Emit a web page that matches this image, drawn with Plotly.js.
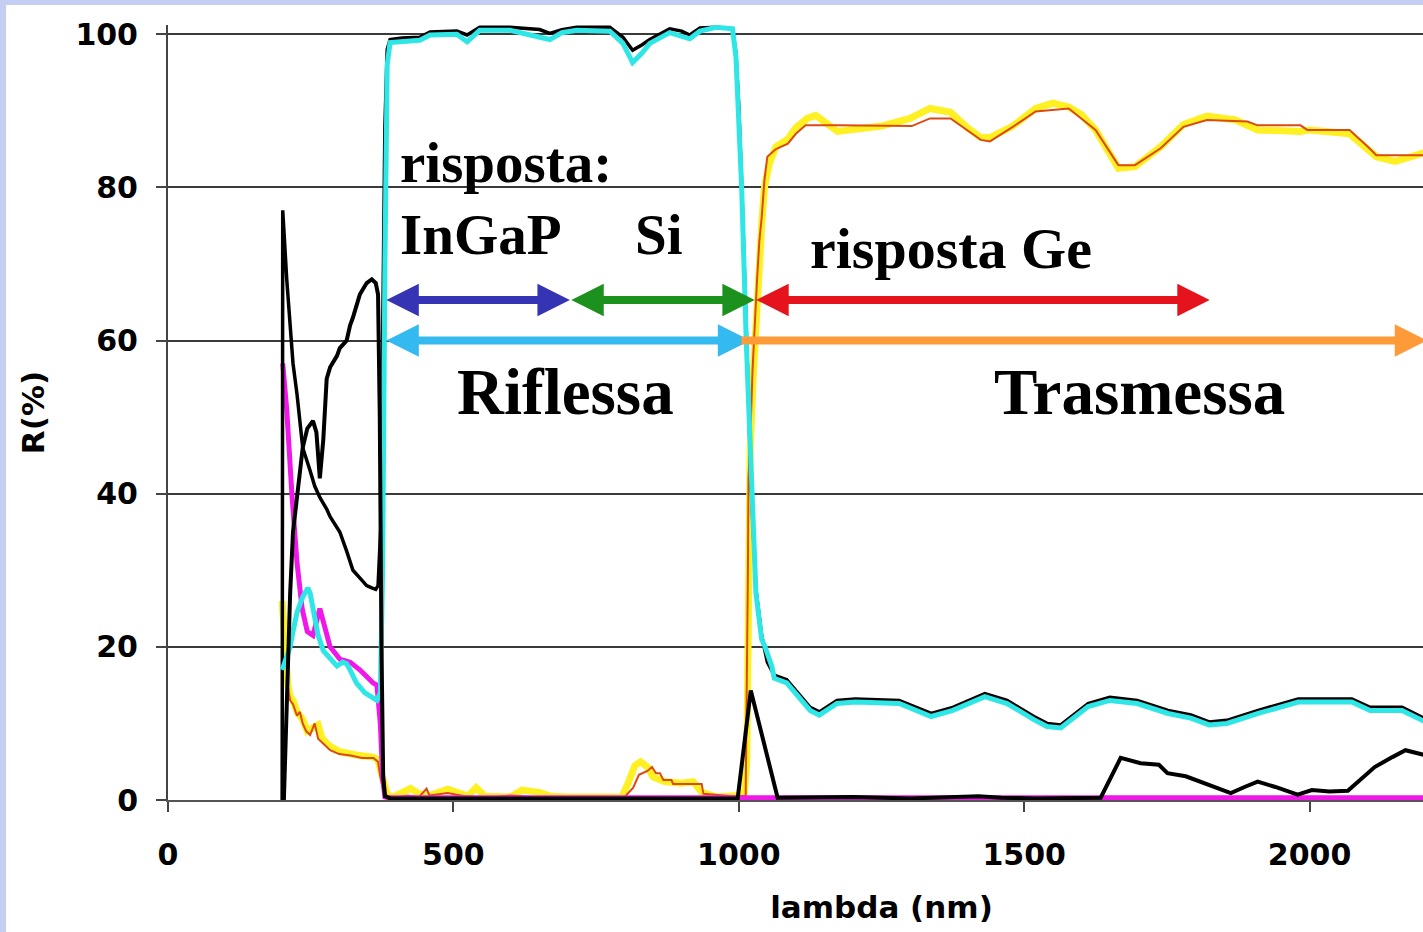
<!DOCTYPE html>
<html>
<head>
<meta charset="utf-8">
<script src="https://cdn.plot.ly/plotly-3.0.1.min.js"></script>
<style>
  html, body { margin: 0; padding: 0; width: 1423px; height: 932px; overflow: hidden; background: #c4cef2; }
  #frame { position: absolute; left: 6px; top: 5px; width: 1417px; height: 927px; background: #fff; overflow: hidden; }
  #chart { position: absolute; left: 0; top: 0; width: 1620px; height: 927px; }
</style>
</head>
<body>
<div id="frame"><div id="chart"></div></div>
<script>
// Reflectance / transmittance spectra of a dichroic filter, R(%) vs wavelength (nm)

// Reflectance, sample 1 (black, drawn under the cyan curve)
const wlBlackA = [200, 201, 208, 214, 219, 226, 231, 236, 249, 257, 266, 278, 284, 296, 301, 313, 319, 324, 336, 348, 357, 364, 368, 371, 373, 376, 380, 384, 389, 410, 441, 459, 490, 506, 524, 546, 599, 630, 651, 669, 690, 716, 774, 797, 814, 830, 844, 879, 900, 914, 932, 960, 989, 995, 1000, 1005, 1013, 1022, 1030, 1040, 1050, 1062, 1084, 1125, 1141, 1172, 1204, 1281, 1337, 1375, 1431, 1470, 1517, 1540, 1564, 1612, 1650, 1698, 1752, 1792, 1824, 1855, 1910, 1980, 2027, 2074, 2106, 2162, 2200];
const rBlackA  = [0, 77, 68, 62, 57, 53, 49, 46, 43, 41, 39.5, 38, 37, 35.5, 35, 32.5, 31, 30, 29, 28, 27.7, 27.5, 28, 34, 36, 60, 88, 98, 99.3, 99.5, 99.6, 100.3, 100.4, 100.4, 99.9, 100.9, 100.9, 100.7, 100.6, 100.1, 100.6, 100.9, 100.9, 99.6, 97.9, 98.6, 99.3, 100.7, 100.4, 99.9, 100.8, 100.9, 100.7, 97.5, 90.5, 80.5, 60.5, 40.5, 27.5, 21.5, 18, 16.3, 15.7, 12.1, 11.5, 13, 13.2, 13, 11.3, 12.1, 13.9, 13, 10.9, 10, 9.8, 12.6, 13.4, 13, 11.7, 11.1, 10.2, 10.4, 11.7, 13.2, 13.2, 13.2, 12.1, 12.1, 10.7];

// Reflectance, sample 2 (cyan)
const wlCyan = [200, 208, 214, 219, 226, 236, 245, 249, 257, 263, 272, 284, 296, 306, 313, 319, 330, 345, 358, 366, 372, 376, 380, 384, 389, 410, 441, 459, 506, 524, 546, 599, 651, 669, 690, 716, 774, 797, 814, 830, 844, 879, 914, 932, 960, 989, 995, 1000, 1005, 1013, 1022, 1030, 1040, 1046, 1058, 1062, 1084, 1125, 1141, 1172, 1204, 1281, 1337, 1375, 1431, 1470, 1517, 1540, 1564, 1612, 1650, 1698, 1752, 1792, 1824, 1855, 1910, 1980, 2027, 2074, 2106, 2162, 2200];
const rCyan  = [17, 18.5, 20, 22, 24.5, 26.5, 27.7, 27, 23.5, 21.5, 19.5, 18.6, 17.5, 18, 17.8, 17, 15.3, 14, 13.3, 13, 14, 30, 70, 96, 98.9, 99, 99.2, 99.9, 100, 99, 100.5, 100.5, 99.7, 99.3, 100.2, 100.5, 100.4, 98.8, 96.3, 97.5, 98.8, 100.2, 99.4, 100.4, 100.9, 100.7, 97, 90, 80, 60, 40, 27, 21, 20, 17.4, 15.9, 15.3, 11.7, 11.1, 12.6, 12.8, 12.6, 10.9, 11.7, 13.5, 12.6, 10.5, 9.6, 9.4, 12.2, 13, 12.6, 11.3, 10.7, 9.8, 10, 11.3, 12.8, 12.8, 12.8, 11.7, 11.7, 10.3];

// Reflectance, sample 3 (magenta)
const wlMagenta = [201, 208, 217, 226, 235, 244, 254, 266, 284, 301, 319, 336, 359, 366, 372, 376, 380, 385, 700, 1200, 1700, 2200];
const rMagenta  = [57, 51, 40, 31, 25, 22, 21.5, 25, 20, 18.4, 18, 17, 15.3, 15, 10, 3, 0.4, 0.3, 0.3, 0.3, 0.3, 0.3];

// Transmittance, sample 1 (yellow)
const wlYellow = [200, 203, 206, 210, 214, 219, 226, 236, 244, 254, 263, 270, 284, 301, 319, 336, 359, 368, 372, 378, 384, 392, 410, 425, 440, 460, 490, 510, 525, 540, 555, 600, 620, 650, 670, 700, 795, 805, 818, 828, 840, 850, 870, 900, 920, 935, 960, 1000, 1010, 1014, 1016, 1018, 1020, 1025, 1030, 1035, 1040, 1045, 1053, 1065, 1086, 1100, 1120, 1135, 1150, 1173, 1250, 1300, 1335, 1371, 1400, 1424, 1440, 1480, 1520, 1550, 1578, 1600, 1625, 1665, 1694, 1739, 1779, 1820, 1870, 1909, 1984, 2000, 2070, 2102, 2117, 2150, 2200];
const rYellow  = [26, 22, 17, 15, 13.5, 13, 11.5, 10.5, 9, 9.5, 9.8, 8, 7, 6.3, 6, 5.8, 5.6, 5.3, 4, 2, 0.8, 0.3, 1, 1.5, 0.8, 0.6, 1.4, 1, 0.5, 1.6, 0.5, 0.4, 1.3, 1, 0.5, 0.4, 0.4, 2, 4.5, 5, 4.3, 3, 2.4, 2.2, 2.4, 1, 0.4, 0.6, 1, 5, 20, 40, 46, 55, 63, 70, 75, 80, 83, 85.3, 86.3, 87.8, 89, 89.4, 88.5, 87.3, 88, 89, 90.3, 89.8, 87.8, 86.5, 86.5, 88, 90.3, 91, 90.5, 89.5, 87.5, 82.5, 82.7, 85.3, 88.2, 89.3, 88.8, 87.5, 87.3, 87.5, 87, 85, 84, 83.4, 84.5];

// Transmittance, sample 2 (orange-red, thin)
const wlOrange = [208, 214, 219, 226, 231, 236, 242, 249, 257, 263, 270, 284, 300, 320, 340, 360, 368, 372, 378, 385, 392, 420, 440, 453, 458, 490, 520, 560, 600, 640, 700, 800, 815, 825, 840, 848, 855, 862, 868, 882, 885, 935, 938, 990, 1012, 1014, 1016, 1017, 1020, 1024, 1028, 1032, 1036, 1040, 1045, 1050, 1065, 1086, 1100, 1117, 1173, 1303, 1335, 1371, 1424, 1440, 1480, 1520, 1578, 1625, 1665, 1694, 1739, 1779, 1820, 1891, 1909, 1984, 1996, 2070, 2102, 2117, 2200];
const rOrange  = [15.7, 13, 12.5, 11, 11.5, 10, 9, 8.5, 10, 8, 7.5, 6.5, 6, 5.8, 5.5, 5.5, 5, 3, 1, 0.5, 0.2, 0.6, 0.4, 1.5, 0.6, 0.9, 0.5, 0.3, 0.6, 0.4, 0.3, 0.4, 1.6, 3.3, 3.8, 4.3, 3.5, 3.5, 2.6, 2.6, 2.1, 2.1, 0.8, 0.5, 0.5, 12, 30, 42, 47, 56, 63, 68, 73, 76, 81, 84, 85, 85.7, 87, 88.1, 88.1, 88, 89, 89, 86.2, 86, 87.9, 89.9, 90.3, 87.5, 82.9, 82.9, 85.1, 87.9, 88.8, 88.6, 88.1, 88.1, 87.5, 87.5, 85.3, 84.2, 84.2];

// Second black curve (thick)
const wlBlackB = [203, 208, 214, 219, 226, 231, 236, 244, 254, 260, 266, 272, 278, 284, 296, 301, 313, 319, 324, 336, 348, 357, 364, 368, 371, 374, 377, 380, 390, 600, 800, 998, 1021, 1068, 1200, 1300, 1420, 1460, 1520, 1634, 1669, 1704, 1736, 1751, 1783, 1807, 1830, 1862, 1886, 1909, 1940, 1979, 2004, 2035, 2067, 2082, 2114, 2145, 2168, 2200];
const rBlackB  = [0, 14, 27, 35, 40, 43, 46, 48.5, 49.5, 48, 42, 47, 55, 56.5, 58, 59, 60, 62, 63, 66, 67.5, 68, 67.5, 66, 50, 20, 3, 0.5, 0.2, 0.2, 0.2, 0.2, 14.3, 0.3, 0.4, 0.2, 0.5, 0.3, 0.2, 0.3, 5.5, 4.8, 4.6, 3.5, 3.1, 2.4, 1.7, 0.9, 1.7, 2.4, 1.7, 0.7, 1.3, 1.1, 1.2, 2.2, 4.3, 5.6, 6.5, 5.9];

// Axis ticks
const xTicks = [0, 500, 1000, 1500, 2000];
const yTicks = [0, 20, 40, 60, 80, 100];

// Detector response bands and reflected / transmitted ranges (nm)
const bandStart = [380, 704, 1028, 380, 1002];
const bandEnd   = [704, 1028, 1825, 1020, 2206];

const serifBold = { family: 'Liberation Serif, Times New Roman, serif', weight: 'bold', color: '#000' };
const sansBold = { family: 'DejaVu Sans, Arial, sans-serif', weight: 'bold', color: '#000' };

function line(x, y, color, width) {
  return { x: x, y: y, type: 'scatter', mode: 'lines', line: { color: color, width: width }, hoverinfo: 'skip' };
}

const traces = [
  line(wlYellow, rYellow, '#fff022', 7),
  line(wlOrange, rOrange, '#dc4a14', 2),
  line(wlMagenta, rMagenta, '#f018e8', 5),
  line(wlBlackA, rBlackA, '#000000', 3.5),
  line(wlCyan, rCyan, '#2ee6e6', 5),
  line(wlBlackB, rBlackB, '#000000', 4)
];

// arrow styles: level (R%), colour, heads
const arrowLevel = [65.3, 65.3, 65.3, 60, 60];
const arrowColor = ['#3434b4', '#1d911d', '#e5141c', '#35baf0', '#ff9a38'];
const arrowSide = ['end+start', 'end+start', 'end+start', 'end+start', 'end'];

const annotations = bandStart.map((s, i) => ({
  x: bandEnd[i], y: arrowLevel[i], ax: s, ay: arrowLevel[i],
  xref: 'x', yref: 'y', axref: 'x', ayref: 'y',
  text: '', showarrow: true,
  arrowhead: 2, startarrowhead: 2, arrowside: arrowSide[i],
  arrowsize: 0.81, startarrowsize: 0.81, arrowwidth: 8,
  arrowcolor: arrowColor[i], standoff: 0, startstandoff: 0
}));

function label(text, x, y, size) {
  return { text: text, x: x, y: y, xref: 'x', yref: 'y', xanchor: 'left', yanchor: 'middle',
           showarrow: false, font: Object.assign({ size: size }, serifBold) };
}
annotations.push(
  label('risposta:', 403, 83.2, 57),
  label('InGaP', 403, 73.9, 57),
  label('Si', 815, 73.9, 57),
  label('risposta Ge', 1122, 72, 58),
  label('Riflessa', 502, 53.3, 65),
  label('Trasmessa', 1443, 53.3, 65)
);

const layout = {
  width: 1620, height: 927,
  margin: { l: 162, r: 31, t: 20, b: 132, pad: 0 },
  paper_bgcolor: '#ffffff', plot_bgcolor: '#ffffff',
  showlegend: false,
  xaxis: {
    range: [0, 2500], tickvals: xTicks, ticktext: xTicks.map(String),
    ticks: 'outside', ticklen: 10, tickwidth: 2, tickcolor: '#444',
    showline: true, linecolor: '#555', linewidth: 2,
    showgrid: false, zeroline: false,
    tickfont: Object.assign({ size: 30 }, sansBold),
    ticklabelstandoff: 17,
    title: { text: 'lambda (nm)', font: Object.assign({ size: 31 }, sansBold), standoff: 25 }
  },
  yaxis: {
    range: [0, 101.2], tickvals: yTicks, ticktext: yTicks.map(String),
    ticks: 'outside', ticklen: 10, tickwidth: 2, tickcolor: '#444',
    showline: true, linecolor: '#444', linewidth: 2,
    showgrid: true, gridcolor: '#3a3a3a', gridwidth: 2, zeroline: false,
    tickfont: Object.assign({ size: 30 }, sansBold),
    ticklabelstandoff: 12,
    title: { text: 'R(%)', font: Object.assign({ size: 31 }, sansBold), standoff: 22 }
  },
  annotations: annotations
};

Plotly.newPlot('chart', traces, layout, { staticPlot: true, displayModeBar: false });
</script>
</body>
</html>
